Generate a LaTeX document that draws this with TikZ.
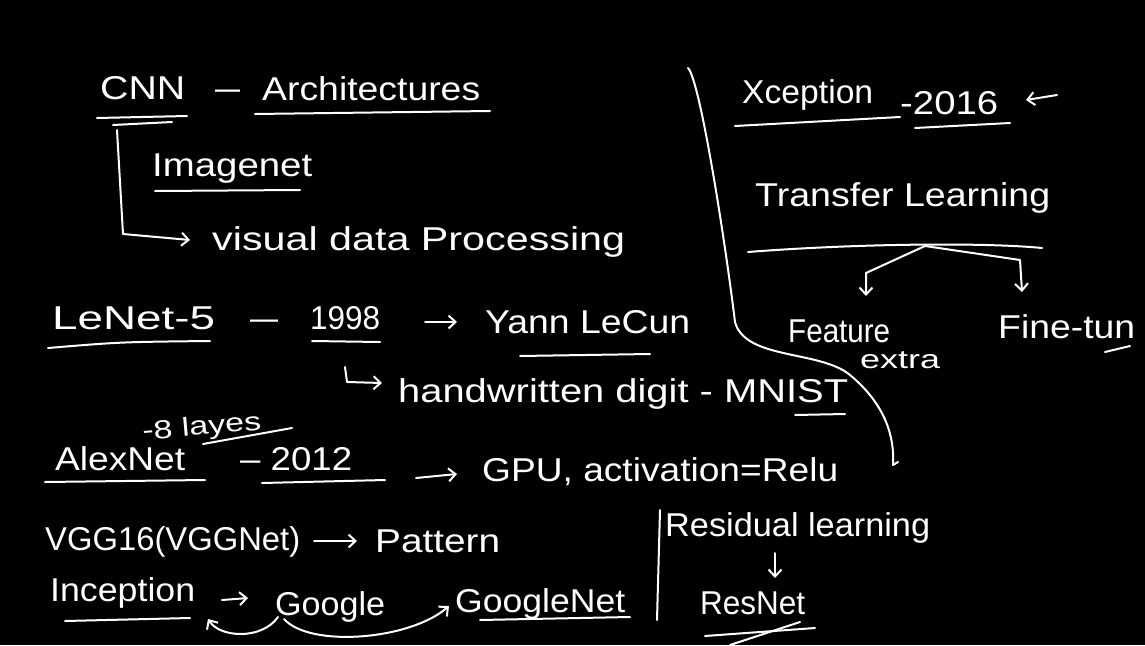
\documentclass[tikz,border=0pt]{standalone}
\usepackage{fontspec}
\usepackage{graphicx}
\setmainfont{Liberation Sans}
\usetikzlibrary{arrows.meta}
\newcommand{\Wd}[2]{\resizebox{#1pt}{\height}{#2}}
\tikzset{
  txt/.style={text=white, inner sep=0pt, anchor=base west, font=\fontsize{33}{36}\selectfont},
  small/.style={txt, font=\fontsize{26}{30}\selectfont},
  pen/.style={draw=white, line width=2pt, line cap=round, line join=round},
  arr/.style={pen, -{Straight Barb[length=7pt,width=13pt,line width=2pt]}},
}
\begin{document}
\begin{tikzpicture}[x=1pt,y=-1pt]
\fill[black] (0,0) rectangle (1145,645);
\useasboundingbox (0,0) rectangle (1145,645);

% --- CNN title
\node[txt] (cnn) at (100,99) {\Wd{85}{CNN}};
\node[txt] (d1) at (215,99) {\Wd{25}{--}};
\node[txt] (arch) at (262,100) {\Wd{218}{Architectures}};
\draw[pen] (97,118) -- (187,116);
\draw[pen] (113,125) -- (172,122);
\draw[pen] (255,114) -- (490,111);
\node[txt] (imagenet) at (152,176) {\Wd{160}{Imagenet}};
\draw[pen] (155,191) -- (300,190);
\node[txt] (vdp) at (212,250) {\Wd{413}{visual data Processing}};
\coordinate (cnnbar) at (117,130);
\coordinate (vdpin) at (190,240);
\draw[arr] (cnnbar) -- (123,234) -- (vdpin);

% --- LeNet
\node[txt] (lenet) at (52,329) {\Wd{163}{LeNet-5}};
\draw[pen] (48,348) .. controls (120,342) .. (210,341);
\node[txt] (d2) at (250,329) {\Wd{28}{--}};
\node[txt] (y1998) at (310,329) {\Wd{70}{1998}};
\draw[pen] (312,341) -- (380,342);
\node[txt] (yann) at (485,333) {\Wd{205}{Yann LeCun}};
\draw[pen] (520,356) -- (650,354);
\coordinate (la1) at (425,322);
\coordinate (la2) at (457,322);
\draw[arr] (la1) -- (la2);
\node[txt] (hw) at (398,402) {\Wd{450}{handwritten digit - MNIST}};
\draw[pen] (795,415) -- (845,414);
\coordinate (hwin) at (382,383);
\draw[arr] (345,367) -- (347,382) -- (hwin);

% --- AlexNet
\node[small, rotate=5] (layers) at (143,440) {\Wd{119}{-8 layes}};
\draw[pen] (203,444) -- (292,428);
\node[txt] (alex) at (55,470) {\Wd{130}{AlexNet}};
\draw[pen] (45,482) -- (205,480);
\node[txt] (y2012) at (240,470) {\Wd{112}{-- 2012}};
\draw[pen] (262,483) -- (385,480);
\node[txt] (gpu) at (482,481) {\Wd{356}{GPU, activation=Relu}};
\coordinate (ga1) at (416,478);
\coordinate (ga2) at (457,474);
\draw[arr] (ga1) -- (ga2);

% --- VGG
\node[txt] (vgg) at (45,550) {\Wd{255}{VGG16(VGGNet)}};
\node[txt] (pattern) at (375,552) {\Wd{125}{Pattern}};
\coordinate (va1) at (314,541);
\coordinate (va2) at (357,541);
\draw[arr] (va1) -- (va2);

% --- Inception
\node[txt] (incep) at (50,601) {\Wd{145}{Inception}};
\draw[pen] (65,621) -- (190,618);
\node[txt] (google) at (275,615) {\Wd{110}{Google}};
\node[txt] (gnet) at (455,612) {\Wd{170}{GoogleNet}};
\draw[pen] (480,620) -- (630,617);
\coordinate (ia1) at (222,600);
\coordinate (ia2) at (248,598);
\draw[arr] (ia1) -- (ia2);
\coordinate (gs1) at (278,617);
\coordinate (ie) at (208,619);
\coordinate (gs2) at (284,619);
\coordinate (ge) at (449,606);
\draw[arr] (gs1) .. controls (262,640) and (220,638) .. (ie);
\draw[arr] (gs2) .. controls (310,648) and (410,640) .. (ge);

% --- Residual
\draw[pen] (660,510) -- (657,620);
\node[txt] (resid) at (665,536) {\Wd{265}{Residual learning}};
\node[txt] (resnet) at (700,614) {\Wd{105}{ResNet}};
\coordinate (ra1) at (775,553);
\coordinate (ra2) at (775,578);
\draw[arr] (ra1) -- (ra2);
\draw[pen] (705,636) -- (815,628);
\draw[pen] (730,645) -- (800,622);

% --- divider
\coordinate (divtop) at (688,68);
\coordinate (divbot) at (893,465);
\draw[pen] (divtop) .. controls (700,80) and (725,240) .. (735,322)
  .. controls (745,360) and (820,350) .. (850,375)
  .. controls (880,400) and (895,430) .. (divbot) -- (898,462);

% --- Xception
\node[txt] (xcep) at (742,103) {\Wd{131}{Xception}};
\draw[pen] (735,126) -- (900,117);
\node[txt] (y2016) at (900,114) {\Wd{98}{-2016}};
\draw[pen] (915,128) -- (1010,123);
\coordinate (xa) at (1057,95);
\coordinate (xae) at (1026,100);
\draw[arr] (xa) -- (xae);

% --- Transfer learning
\node[txt] (tl) at (755,206) {\Wd{295}{Transfer Learning}};
\node[txt] (feat) at (788,342) {\Wd{102}{Feature}};
\node[small] (extra) at (860,368) {\Wd{80}{extra}};
\node[txt] (fine) at (998,338) {\Wd{137}{Fine-tun}};
\draw[pen] (748,252) .. controls (850,244) and (980,242) .. (1042,248);
\coordinate (tlm) at (925,246);
\coordinate (fe) at (866,296);
\coordinate (fn) at (1022,292);
\draw[arr] (tlm) -- (866,273) -- (fe);
\draw[arr] (tlm) -- (1020,260) -- (fn);
\draw[pen] (1105,352) -- (1130,346);
\end{tikzpicture}
\end{document}
